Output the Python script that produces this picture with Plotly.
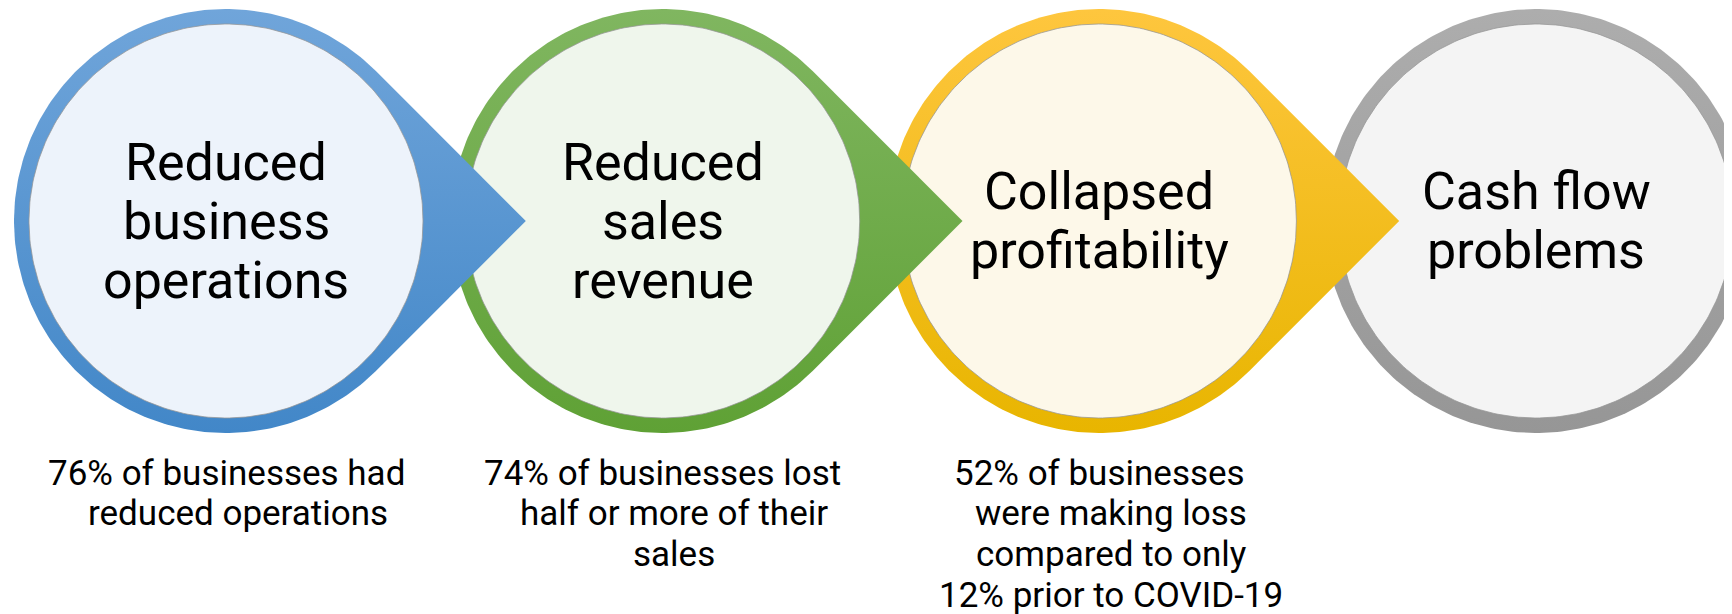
import numpy as np
import plotly.graph_objects as go

# ---- data ----
titles = [
    ["Reduced", "business", "operations"],
    ["Reduced", "sales", "revenue"],
    ["Collapsed", "profitability"],
    ["Cash flow", "problems"],
]
descriptions = [
    ["76% of businesses had", "reduced operations"],
    ["74% of businesses lost", "half or more of their", "sales"],
    ["52% of businesses", "were making loss", "compared to only", "12% prior to COVID-19"],
    [],
]
has_arrow = [True, True, True, False]
ring_light = ["#70a5da", "#80b660", "#fec63e", "#adadad"]
ring_dark = ["#4287c8", "#5fa135", "#e8b500", "#969696"]
inner_fill = ["#edf3fb", "#eff6ec", "#fdf8e9", "#f4f4f4"]

# ---- layout geometry ----
W, H = 1732, 614
OFF = 8  # default page body margin
cx0, step, cy = 226, 436.7, 221
R_out, R_in = 212, 197
title_size, title_gap = 52, 59
desc_size, desc_gap, desc_top = 35, 40.8, 473
desc_dx = [[0, 12], [0, 11, 11], [0, 12, 12, 12], []]  # text-box indent in px

fig = go.Figure()
ann = []


def teardrop(cx, arrow):
    if arrow:
        th = np.linspace(np.pi / 4, 2 * np.pi - np.pi / 4, 240)
        xs = list(cx + R_out * np.cos(th)) + [cx + R_out * np.sqrt(2)]
        ys = list(cy - R_out * np.sin(th)) + [cy]
        xs.append(xs[0]); ys.append(ys[0])
    else:
        th = np.linspace(0, 2 * np.pi, 300)
        xs = list(cx + R_out * np.cos(th)); ys = list(cy - R_out * np.sin(th))
    return xs, ys


n = len(titles)
for i in reversed(range(n)):
    cx = cx0 + step * i
    xs, ys = teardrop(cx, has_arrow[i])
    fig.add_trace(go.Scatter(
        x=xs, y=ys, mode="lines", fill="toself", line=dict(width=0, color=ring_light[i]),
        fillgradient=dict(type="vertical", colorscale=[[0, ring_dark[i]], [1, ring_light[i]]]),
        hoverinfo="skip", showlegend=False))
    th = np.linspace(0, 2 * np.pi, 300)
    fig.add_trace(go.Scatter(
        x=cx + R_in * np.cos(th), y=cy - R_in * np.sin(th), mode="lines", fill="toself",
        fillcolor=inner_fill[i], line=dict(width=1, color="rgba(150,150,150,0.75)"),
        hoverinfo="skip", showlegend=False))

for i in range(n):
    cx = cx0 + step * i
    tl = titles[i]
    for j, t in enumerate(tl):
        ann.append(dict(x=cx, y=cy + (j - (len(tl) - 1) / 2) * title_gap, text=t,
                        showarrow=False, xanchor="center", yanchor="middle",
                        font=dict(family="Roboto", size=title_size, color="black")))
    for j, t in enumerate(descriptions[i]):
        ann.append(dict(x=cx + desc_dx[i][j], y=desc_top + j * desc_gap, text=t,
                        showarrow=False, xanchor="center", yanchor="middle",
                        font=dict(family="Roboto", size=desc_size, color="black")))

fig.update_layout(
    width=W - OFF, height=H - OFF, margin=dict(l=0, r=0, t=0, b=0),
    paper_bgcolor="white", plot_bgcolor="white",
    xaxis=dict(range=[OFF, W], visible=False, fixedrange=True),
    yaxis=dict(range=[H, OFF], visible=False, fixedrange=True),
    annotations=ann, showlegend=False,
)
fig.write_html("out.html")
